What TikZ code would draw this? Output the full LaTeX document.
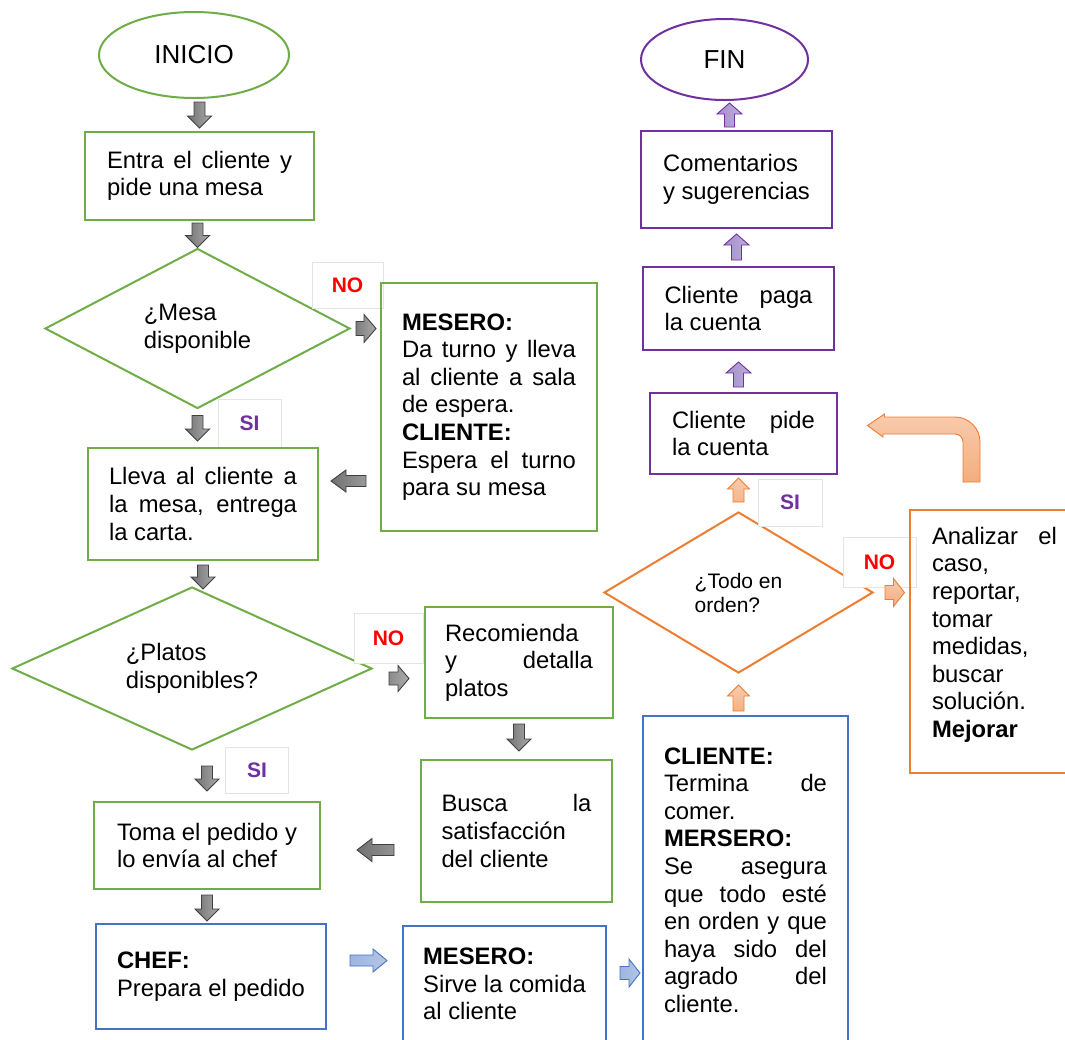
\documentclass[tikz,border=0pt]{standalone}
\usepackage{fontspec}
\setmainfont{Liberation Sans}
\usetikzlibrary{shapes.geometric,calc}

\definecolor{verde}{HTML}{70AD47}
\definecolor{azul}{HTML}{4472C4}
\definecolor{morado}{HTML}{7030A0}
\definecolor{naranja}{HTML}{ED7D31}
\definecolor{rojo}{HTML}{FF0000}
\definecolor{grisborde}{HTML}{E4E4E4}
\definecolor{grisosc}{HTML}{404040}
\definecolor{grisA}{HTML}{717171}
\definecolor{grisB}{HTML}{ABABAB}
\definecolor{azulA}{HTML}{8EA9DB}
\definecolor{azulB}{HTML}{B4C6E7}
\definecolor{moradoA}{HTML}{A58FCB}
\definecolor{moradoB}{HTML}{BCAEDA}
\definecolor{naranjaA}{HTML}{F8CBAD}
\definecolor{naranjaB}{HTML}{F4AD7E}

\newcommand\jl[1]{\makebox[\anchojust][s]{#1}}

\tikzset{
  hueco ini/.store in=\huecoini, hueco fin/.store in=\huecofin,
  cuerpo/.store in=\cuerpo, punta/.store in=\punta, largo/.store in=\largo,
  hueco ini=3, hueco fin=3, cuerpo=5.5, punta=12, largo=12,
  justo/.code={\def\anchojust{#1pt}},
  flecha/.style={to path={
    let \p1=(\tikztostart), \p2=(\tikztotarget),
        \n1={veclen(\x2-\x1,\y2-\y1)},
        \n2={(\x2-\x1)/\n1}, \n3={(\y2-\y1)/\n1},
        \p3=({\x1+(\n2)*\huecoini},{\y1+(\n3)*\huecoini}),
        \p4=({\x2-(\n2)*\huecofin},{\y2-(\n3)*\huecofin})
    in ({\x3-(\n3)*\cuerpo},{\y3+(\n2)*\cuerpo})
    -- ({\x4-(\n2)*\largo-(\n3)*\cuerpo},{\y4-(\n3)*\largo+(\n2)*\cuerpo})
    -- ({\x4-(\n2)*\largo-(\n3)*\punta},{\y4-(\n3)*\largo+(\n2)*\punta})
    -- (\p4)
    -- ({\x4-(\n2)*\largo+(\n3)*\punta},{\y4-(\n3)*\largo-(\n2)*\punta})
    -- ({\x4-(\n2)*\largo+(\n3)*\cuerpo},{\y4-(\n3)*\largo-(\n2)*\cuerpo})
    -- ({\x3+(\n3)*\cuerpo},{\y3-(\n2)*\cuerpo}) -- cycle}}
}

\begin{document}
\begin{tikzpicture}[x=1pt,y=-1pt,
  texto/.style={font=\fontsize{23.8}{27.6}\selectfont},
  caja/.style 2 args={draw, line width=2pt, inner sep=0pt, align=left, texto,
    minimum width=#1pt, minimum height=#2pt},
  decision/.style 2 args={diamond, aspect=2, draw, line width=2pt, inner sep=0pt, align=left, texto,
    minimum width=#1pt, minimum height=#2pt},
  terminal/.style 2 args={ellipse, draw, line width=2pt, inner sep=0pt,
    font=\fontsize{26}{30}\selectfont, minimum width=#1pt, minimum height=#2pt},
  etiqueta/.style 2 args={draw=grisborde, line width=0.7pt, fill=white, inner sep=0pt,
    font=\fontsize{21}{24}\selectfont\bfseries, minimum width=#1pt, minimum height=#2pt},
  gris/.style={flecha, draw=grisosc, line width=0.9pt, left color=grisA, right color=grisB},
  azulf/.style={flecha, draw=azul, line width=0.9pt, left color=azulA, right color=azulB},
  moradof/.style={flecha, draw=morado, line width=0.9pt, left color=moradoA, right color=moradoB,
    cuerpo=5, punta=12.5, largo=11},
  naranjaf/.style={flecha, draw=naranja, line width=0.9pt, top color=naranjaA, bottom color=naranjaB,
    cuerpo=5.5, punta=11, largo=11}]

  \useasboundingbox (0,0) rectangle (1065,1039);
  \fill[white] (0,0) rectangle (1065,1039);

  \node[terminal={190}{86}, draw=verde] (inicio) at (194,55) {INICIO};
  \node[caja={229}{88}, draw=verde, justo=185] (entra) at (199.5,176)
    {\jl{Entra el cliente y}\\pide una mesa};
  \node[decision={305}{160}, draw=verde] (mesa) at (197.5,328.5) {¿Mesa\\disponible};
  \node[etiqueta={71}{46}, text=rojo] (no1) at (347.5,285) {NO};
  \node[etiqueta={63}{48}, text=morado] (si1) at (249.5,423) {SI};
  \node[caja={216}{248}, draw=verde, justo=174] (mesero1) at (489,407)
    {\textbf{MESERO:}\\\jl{Da turno y lleva}\\\jl{al cliente a sala}\\de espera.\\
     \textbf{CLIENTE:}\\\jl{Espera el turno}\\para su mesa};
  \node[caja={230}{112}, draw=verde, justo=188] (lleva) at (203,504)
    {\jl{Lleva al cliente a}\\\jl{la mesa, entrega}\\la carta.};
  \node[decision={360}{163}, draw=verde] (platos) at (192,668.5) {¿Platos\\disponibles?};
  \node[etiqueta={69}{50}, text=rojo] (no2) at (388.5,638) {NO};
  \node[etiqueta={63}{46}, text=morado] (si2) at (257,770) {SI};
  \node[caja={188}{111}, draw=verde, justo=148] (recomienda) at (519,662.5)
    {Recomienda\\\jl{y detalla}\\platos};
  \node[caja={191}{142}, draw=verde, justo=150] (busca) at (516.5,831)
    {\jl{Busca la}\\satisfacción\\del cliente};
  \node[caja={226}{87}, draw=verde] (toma) at (207,845.5) {Toma el pedido y\\lo envía al chef};
  \node[caja={230}{105}, draw=azul] (chef) at (211,976.5) {\textbf{CHEF:}\\Prepara el pedido};
  \node[caja={203}{116}, draw=azul] (sirve) at (504.5,984)
    {\textbf{MESERO:}\\Sirve la comida\\al cliente};
  \node[caja={205}{328}, draw=azul, justo=163] (termina) at (745.5,880)
    {\textbf{CLIENTE:}\\\jl{Termina de}\\comer.\\\textbf{MERSERO:}\\\jl{Se asegura}\\
     \jl{que todo esté}\\\jl{en orden y que}\\\jl{haya sido del}\\\jl{agrado del}\\cliente.};
  \node[decision={269}{161}, draw=naranja, font=\fontsize{21}{24}\selectfont] (todo) at (738.5,592.5)
    {¿Todo en\\orden?};
  \node[etiqueta={64}{47}, text=morado] (si3) at (790,502.5) {SI};
  \node[etiqueta={73}{50}, text=rojo] (no3) at (879.5,562) {NO};
  \node[caja={170}{263}, draw=naranja, justo=125] (analizar) at (994.5,641.5)
    {\jl{Analizar el}\\caso,\\reportar,\\tomar\\medidas,\\buscar\\solución.\\\textbf{Mejorar}\\[-9pt]\mbox{}};
  \node[caja={187}{81}, draw=morado, justo=143] (pide) at (743.5,433.5)
    {\jl{Cliente pide}\\la cuenta};
  \node[caja={191}{83}, draw=morado, justo=148] (paga) at (738.5,308.5)
    {\jl{Cliente paga}\\la cuenta};
  \node[caja={191}{97}, draw=morado] (comentarios) at (736.5,179.5)
    {Comentarios\\y sugerencias};
  \node[terminal={167}{81}, draw=morado] (fin) at (724.5,59.5) {FIN};

  \draw[gris] (entra.north |- inicio.south) to (entra.north);
  \draw[gris, hueco ini=2, hueco fin=0] (mesa.north |- entra.south) to (mesa.north);
  \draw[gris, hueco ini=6, hueco fin=6] (mesa.south) to (mesa.south |- lleva.north);
  \draw[gris, hueco ini=4, hueco fin=-3] (lleva.south) to (lleva.south |- platos.north);
  \draw[gris, hueco ini=15, hueco fin=10] (toma.north |- platos.south) to (toma.north);
  \draw[gris, hueco ini=5, hueco fin=2] (toma.south) to (toma.south |- chef.north);
  \draw[gris, hueco ini=5, hueco fin=8] (recomienda.south) to (recomienda.south |- busca.north);
  \draw[gris, cuerpo=7, punta=14, largo=12, hueco ini=5, hueco fin=4] (mesa.east) to (mesa.east -| mesero1.west);
  \coordinate (p1) at ([yshift=23]lleva.east);
  \draw[gris, punta=11, largo=15, hueco ini=14, hueco fin=12] (p1 -| mesero1.west) to (p1);
  \coordinate (p2) at ([yshift=-10]platos.east);
  \draw[gris, cuerpo=6.5, punta=13, largo=11, hueco ini=16, hueco fin=15] (p2) to (p2 -| recomienda.west);
  \coordinate (p3) at ([yshift=-19]busca.west);
  \draw[gris, punta=11.5, largo=15, hueco ini=26, hueco fin=36] (p3) to (p3 -| toma.east);

  \coordinate (p4) at ([yshift=16]chef.east);
  \draw[azulf, punta=11.5, largo=14, hueco ini=23, hueco fin=15] (p4) to (p4 -| sirve.west);
  \coordinate (p5) at ([yshift=11]sirve.east);
  \draw[azulf, cuerpo=6.5, punta=14, largo=11, hueco ini=13, hueco fin=2] (p5) to (p5 -| termina.west);

  \draw[naranjaf, hueco ini=4, hueco fin=11] (todo.south |- termina.north) to (todo.south);
  \draw[naranjaf, hueco ini=9, hueco fin=3] (todo.north) to (todo.north |- pide.south);
  \draw[naranjaf, cuerpo=7, punta=14, hueco ini=11, hueco fin=4] (todo.east) to (todo.east -| analizar.west);

  \draw[moradof, hueco ini=5, hueco fin=11] (paga.south |- pide.north) to (paga.south);
  \draw[moradof, hueco ini=6, hueco fin=5] (comentarios.south |- paga.north) to (comentarios.south);
  \coordinate (p6) at ([xshift=5]fin.south);
  \draw[moradof, hueco ini=3, hueco fin=2] (p6 |- comentarios.north) to (p6);

  \coordinate (retorno) at ([xshift=29.5,yshift=8]pide.east);
  \draw[naranja, line width=0.9pt, top color=naranjaA, bottom color=naranjaB]
    (retorno) -- ++(17,-11.5) -- ++(0,3) -- (955,417) arc[start angle=90, end angle=0, radius=25pt]
    -- (980,482) -- (963,482) -- (963,442) arc[start angle=0, end angle=90, radius=8pt]
    -- (883,434) -- (883,437) -- cycle;
\end{tikzpicture}
\end{document}
